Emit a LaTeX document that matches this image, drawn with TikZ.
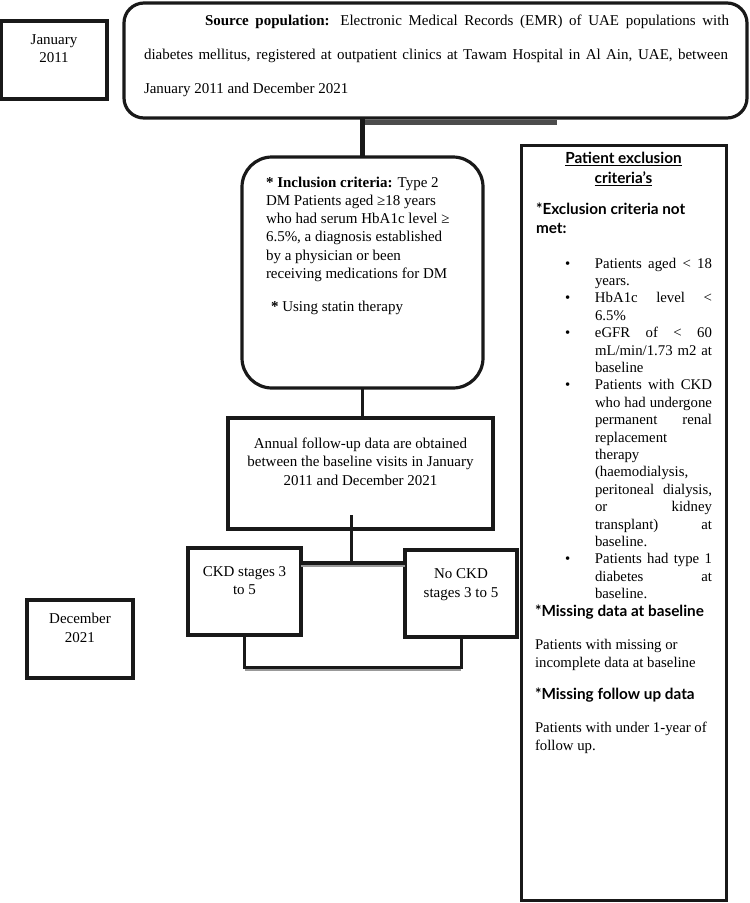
\documentclass[tikz,border=0pt]{standalone}
\usepackage{fontspec}
\setmainfont{Liberation Serif}
\newfontfamily\headfont{Lato}
\usetikzlibrary{calc}
\newcommand\myul[1]{\setbox0\hbox{#1}\rlap{\rule[-2.6pt]{\wd0}{1.1pt}}\box0}
\newcommand\jusline[2]{\makebox[#1][s]{#2}}
\newcommand\hdf{\headfont\bfseries\fontsize{15.3}{17.4}\selectfont}
\newcommand\exbul{\hspace*{44pt}\makebox[30pt][l]{•}}
\newcommand\exind{\hspace*{74pt}}
\begin{document}
\begin{tikzpicture}[x=1pt,y=-1pt,
  sqbox/.style={draw=black!90,line width=3.5pt,inner sep=0pt,outer sep=0pt,rectangle},
  rbox/.style={sqbox,line width=3.2pt,rounded corners=#1},
  conn/.style={draw=black!90,line width=3pt},
  shadowline/.style={draw=black!40,line width=3pt}]
\useasboundingbox (0,0) rectangle (750,903);

\node[sqbox] (jan) at (54,60) {\parbox[c][78pt][t]{106pt}{\centering\fontsize{15}{18}\selectfont\rule{0pt}{23pt}January\\2011}};

\node[rbox=20pt] (top) at (435.5,60.5) {\parbox[c][115pt][t]{623pt}{\fontsize{15}{34}\selectfont\rule{0pt}{22pt}\hspace*{81pt}\jusline{524pt}{\textbf{Source population:} Electronic Medical Records (EMR) of UAE populations with}\\
\hspace*{20pt}\jusline{584pt}{diabetes mellitus, registered at outpatient clinics at Tawam Hospital in Al Ain, UAE, between}\\
\hspace*{20pt}January 2011 and December 2021}};

\node[rbox=30pt] (incl) at (362.5,272.5) {\parbox[c][231pt][t]{241pt}{\raggedright\fontsize{15}{18.3}\selectfont\rule{0pt}{30pt}\hspace*{24pt}\textbf{* Inclusion criteria:} Type 2\\
\hspace*{24pt}DM Patients aged ≥18 years\\
\hspace*{24pt}who had serum HbA1c level ≥\\
\hspace*{24pt}6.5\%, a diagnosis established\\
\hspace*{24pt}by a physician or been\\
\hspace*{24pt}receiving medications for DM\\[14.7pt]
\hspace*{29pt}\textbf{*} Using statin therapy}};

\node[sqbox] (annual) at (360.5,473.5) {\parbox[c][111pt][t]{265pt}{\centering\fontsize{15}{18.5}\selectfont\rule{0pt}{30pt}Annual follow-up data are obtained\\between the baseline visits in January\\2011 and December 2021}};

\node[sqbox] (ckd) at (244.5,591.5) {\parbox[c][87pt][t]{113pt}{\centering\fontsize{15}{18}\selectfont\rule{0pt}{28pt}CKD stages 3\\to 5}};

\node[sqbox] (nockd) at (461,593.5) {\parbox[c][87pt][t]{112pt}{\centering\fontsize{15}{19}\selectfont\rule{0pt}{28pt}No CKD\\stages 3 to 5}};

\node[sqbox] (dec) at (80,639) {\parbox[c][78pt][t]{106pt}{\centering\fontsize{15}{19}\selectfont\rule{0pt}{23pt}December\\2021}};

\node[sqbox,line width=3pt] (excl) at (623.5,522.5) {\parbox[c][755pt][t]{205pt}{\fontsize{14.8}{17.4}\selectfont
\rule{0pt}{18pt}\makebox[205pt]{\hdf\myul{Patient exclusion}}\\[2.6pt]
\makebox[205pt]{\hdf\myul{criteria’s}}\\[13.6pt]
\hspace*{15pt}{\hdf *Exclusion criteria not}\\[1.6pt]
\hspace*{15pt}{\hdf met:}\\[17.6pt]
\exbul\jusline{117pt}{Patients aged < 18}\\
\exind years.\\
\exbul\jusline{117pt}{HbA1c level <}\\
\exind 6.5\%\\
\exbul\jusline{117pt}{eGFR of < 60}\\
\exind\jusline{117pt}{mL/min/1.73 m2 at}\\
\exind baseline\\
\exbul\jusline{117pt}{Patients with CKD}\\
\exind\jusline{117pt}{who had undergone}\\
\exind\jusline{117pt}{permanent renal}\\
\exind replacement\\
\exind therapy\\
\exind (haemodialysis,\\
\exind\jusline{117pt}{peritoneal dialysis,}\\
\exind\jusline{117pt}{or kidney}\\
\exind\jusline{117pt}{transplant) at}\\
\exind baseline.\\
\exbul\jusline{117pt}{Patients had type 1}\\
\exind\jusline{117pt}{diabetes at}\\
\exind baseline.\\[0.6pt]
\hspace*{14pt}{\hdf *Missing data at baseline}\\[15.6pt]
\hspace*{14pt}Patients with missing or\\[0.6pt]
\hspace*{14pt}incomplete data at baseline\\[14.6pt]
\hspace*{14pt}{\hdf *Missing follow up data}\\[15.6pt]
\hspace*{14pt}Patients with under 1-year of\\[0.6pt]
\hspace*{14pt}follow up.}};

% connectors
\fill[black!70] ($(top.south -| incl.north)+(0,1.5)$) rectangle ++(194,5);
\draw[conn,line width=5pt] (top.south -| incl.north) -- (incl.north);
\draw[conn,line width=2.8pt] (incl.south) -- (incl.south |- annual.north);
\coordinate (split) at (351,563);
\draw[conn] ($(annual.south -| split)+(0,-14)$) -- (split);
\draw[shadowline] ($(ckd.east |- split)+(0,2.5)$) -- ($(nockd.west |- split)+(0,2.5)$);
\draw[conn,line width=3.5pt] (ckd.east |- split) -- (nockd.west |- split);
\coordinate (bot) at ($(ckd.south)+(0,32)$);
\draw[shadowline] ($(bot)+(0,2.5)$) -- ($(bot -| nockd.south)+(0,2.5)$);
\draw[conn] (ckd.south) -- (bot) -- (bot -| nockd.south) -- (nockd.south);
\end{tikzpicture}
\end{document}
